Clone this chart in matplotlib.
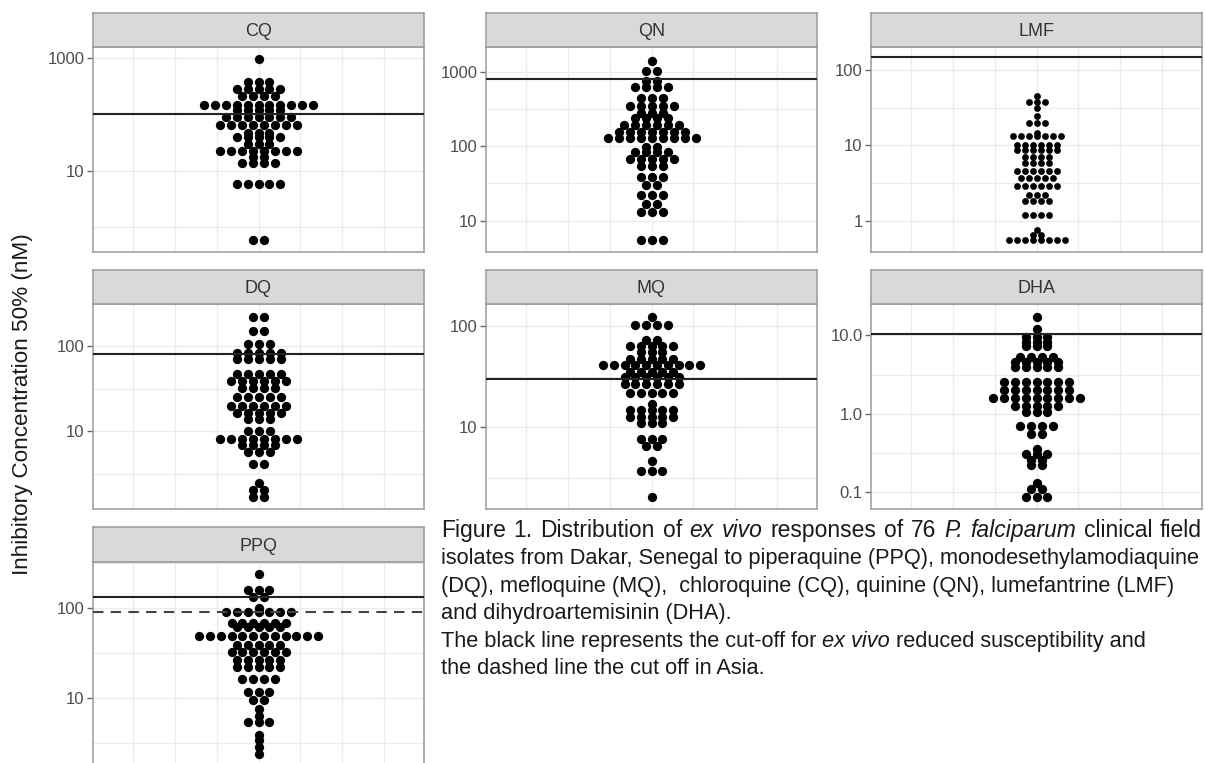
import numpy as np
import matplotlib
matplotlib.use("Agg")
import matplotlib.pyplot as plt
from matplotlib.transforms import IdentityTransform

W, H, DPI = 1205, 763, 100

# ---------------- data (row value, number of dots in the row) ----------------
panel_names = ["CQ", "QN", "LMF", "DQ", "MQ", "DHA", "PPQ"]

cq_vals = [950, 384, 281, 213, 147, 120, 89, 65, 47, 39, 30, 22.7, 17.7, 13.5, 5.8, 0.58]
cq_counts = [1, 3, 5, 4, 11, 5, 7, 8, 3, 5, 3, 8, 2, 4, 5, 2]

qn_vals = [1405, 1030, 750, 618, 440, 347, 282, 237, 193, 157, 130, 98, 83, 68, 55, 39, 30, 22, 16.7, 13.1, 5.5]
qn_counts = [1, 2, 2, 4, 3, 5, 3, 4, 6, 7, 9, 2, 4, 5, 3, 3, 2, 3, 2, 3, 3]

lmf_vals = [44.8, 37.2, 31.4, 24.3, 19.8, 14.6, 13.2, 10.2, 8.6, 7.1, 5.8, 4.5, 3.7, 2.9, 2.2, 1.85, 1.2, 0.76, 0.65, 0.55]
lmf_counts = [1, 3, 1, 1, 3, 1, 7, 6, 6, 4, 4, 6, 5, 6, 3, 4, 4, 1, 2, 8]

dq_vals = [218, 151, 106, 83, 70, 47, 39, 32, 24.9, 19.8, 16.4, 13.7, 10.1, 8.05, 6.85, 5.6, 4.1, 2.44, 2.02, 1.67]
dq_counts = [2, 2, 3, 5, 5, 5, 6, 4, 5, 6, 5, 3, 3, 8, 4, 3, 2, 1, 2, 2]

mq_vals = [122, 102, 73, 63.5, 55.7, 46.9, 41.2, 35.4, 31.2, 26.8, 21.7, 17, 14.8, 12.7, 11.1, 7.67, 6.5, 4.68, 3.7, 2.07]
mq_counts = [1, 4, 2, 5, 3, 5, 10, 5, 6, 6, 5, 1, 5, 5, 3, 3, 2, 1, 3, 1]

dha_vals = [16.9, 11.9, 9.6, 8.3, 7.3, 5.3, 4.6, 3.9, 2.56, 2.0, 1.6, 1.26, 1.06, 0.69, 0.56, 0.36, 0.31, 0.26, 0.22, 0.13, 0.11, 0.088]
dha_counts = [1, 1, 3, 3, 3, 4, 5, 5, 7, 7, 9, 5, 3, 4, 2, 1, 3, 2, 2, 1, 2, 3]

ppq_vals = [240, 160, 132, 100, 91.7, 69, 61.5, 49.2, 39, 33, 26.7, 22.5, 16.4, 11.8, 9.6, 7.7, 6.4, 5.5, 3.9, 3.4, 2.9, 2.4]
ppq_counts = [1, 3, 2, 1, 7, 6, 5, 12, 5, 6, 5, 5, 4, 3, 2, 1, 1, 3, 1, 1, 1, 1]

cutoffs = [100, 800, 150, 80, 30, 10.3, 135]
asia_cutoff_ppq = 90

major_ticks = [[10, 1000], [10, 100, 1000], [1, 10, 100], [10, 100], [10, 100],
               [0.1, 1.0, 10.0], [10, 100]]
tick_labels = [["10", "1000"], ["10", "100", "1000"], ["1", "10", "100"], ["10", "100"],
               ["10", "100"], ["0.1", "1.0", "10.0"], ["10", "100"]]
minor_ticks = [[1, 100], [31.6, 316], [3.16, 31.6], [3.16, 31.6], [3.16, 31.6],
               [0.316, 3.16], [3.16, 31.6, 316]]
log_limits = [(-0.447, 3.2), (0.58, 3.33), (-0.416, 2.305), (0.082, 2.494),
              (0.193, 2.217), (-1.213, 1.399), (0.237, 2.514)]

all_vals = [cq_vals, qn_vals, lmf_vals, dq_vals, mq_vals, dha_vals, ppq_vals]
all_counts = [cq_counts, qn_counts, lmf_counts, dq_counts, mq_counts, dha_counts, ppq_counts]

# ---------------- layout (pixels) ----------------
col_x = [93, 486, 871]
pw = 331
row_y = [(13, 47, 252), (270, 304, 509), (527, 562, 767)]
positions = [(0, 0), (0, 1), (0, 2), (1, 0), (1, 1), (1, 2), (2, 0)]
dot_spacing = [10.9, 11.0, 8.0, 11.0, 10.8, 10.9, 10.8]
dot_diam = [9.3, 9.3, 6.8, 9.3, 9.3, 9.3, 9.3]
grid_step = 41.7

plt.rcParams['font.family'] = ['Liberation Sans', 'DejaVu Sans']
fig = plt.figure(figsize=(W / DPI, H / DPI), dpi=DPI)
fig.patch.set_facecolor('white')

border_col = '#9A9A9A'
grid_col = '#EBEBEB'

for i, name in enumerate(panel_names):
    r, c = positions[i]
    st, pt, pb = row_y[r]
    x0 = col_x[c]
    ax = fig.add_axes([x0 / W, 1 - pb / H, pw / W, (pb - pt) / H])
    sax = fig.add_axes([x0 / W, 1 - pt / H, pw / W, (pt - st) / H])

    # strip
    sax.set_facecolor('#D9D9D9')
    sax.set_xticks([]); sax.set_yticks([])
    for sp in sax.spines.values():
        sp.set_color(border_col); sp.set_linewidth(1.1)
    sax.text(0.5, 0.45, name, ha='center', va='center', fontsize=13,
             color='#333333', transform=sax.transAxes)

    # panel
    ax.set_yscale('log')
    lo, hi = log_limits[i]
    ax.set_ylim(10 ** lo, 10 ** hi)
    ax.set_xlim(-pw / 2, pw / 2)
    ax.set_xticks([k * grid_step for k in range(-3, 4)])
    ax.set_xticklabels([])
    ax.tick_params(axis='x', length=0)
    ax.set_yticks(major_ticks[i])
    ax.set_yticklabels(tick_labels[i])
    ax.set_yticks(minor_ticks[i], minor=True)
    ax.yaxis.set_minor_formatter(matplotlib.ticker.NullFormatter())
    ax.tick_params(axis='y', which='major', length=4, width=1, color='#666666',
                   labelsize=12, labelcolor='#4D4D4D', pad=2)
    ax.tick_params(axis='y', which='minor', length=0)
    ax.grid(True, which='both', color=grid_col, linewidth=0.9, zorder=0)
    ax.set_axisbelow(True)
    for sp in ax.spines.values():
        sp.set_color(border_col); sp.set_linewidth(1.1)

    # dots (centered stacks, like ggplot dotplot stackdir='center')
    xs, ys = [], []
    for v, n in zip(all_vals[i], all_counts[i]):
        off = (np.arange(n) - (n - 1) / 2) * dot_spacing[i]
        xs.extend(off); ys.extend([v] * n)
    s = (dot_diam[i] * 72 / DPI) ** 2
    ax.scatter(xs, ys, s=s, c='black', linewidths=0, zorder=3)

    ax.axhline(cutoffs[i], color='#222222', linewidth=1.5, zorder=4)
    if name == "PPQ":
        ax.axhline(asia_cutoff_ppq, color='#444444', linewidth=1.5,
                   linestyle=(0, (5, 3.5)), zorder=4)

# y label
fig.text(23 / W, 1 - 404 / H, "Inhibitory Concentration 50% (nM)", rotation=90,
         ha='center', va='center', fontsize=16.2, color='#1A1A1A')

# caption with mixed italics (word, style); line 0 is justified to the right edge
caption = [
    [("Figure", 'normal'), ("1.", 'normal'), ("Distribution", 'normal'), ("of", 'normal'),
     ("ex", 'italic'), ("vivo", 'italic'), ("responses", 'normal'), ("of", 'normal'),
     ("76", 'normal'), ("P.", 'italic'), ("falciparum", 'italic'), ("clinical", 'normal'),
     ("field", 'normal')],
    [("isolates from Dakar, Senegal to piperaquine (PPQ), monodesethylamodiaquine", 'normal')],
    [("(DQ), mefloquine (MQ),  chloroquine (CQ), quinine (QN), lumefantrine (LMF)", 'normal')],
    [("and dihydroartemisinin (DHA).", 'normal')],
    [("The black line represents the cut-off for", 'normal'), ("ex vivo", 'italic'),
     ("reduced susceptibility and", 'normal')],
    [("the dashed line the cut off in Asia.", 'normal')],
]
cap_fs = [16.5, 15.7, 15.7, 15.7, 15.7, 15.7]
cap_x = 441
cap_right_line0 = 1202
cap_base = [536.7, 564.2, 591.7, 619.2, 646.7, 674.2]
renderer = fig.canvas.get_renderer()


def text_w(s, style, fs):
    t = fig.text(0, 0, s, fontsize=fs, style=style, transform=IdentityTransform())
    w = t.get_window_extent(renderer).width
    t.remove()
    return w


for li, (line, yb) in enumerate(zip(caption, cap_base)):
    fs = cap_fs[li]
    widths = [text_w(seg, st, fs) for seg, st in line]
    space_w = text_w("x x", 'normal', fs) - text_w("xx", 'normal', fs)
    if li == 0:
        gap = (cap_right_line0 - cap_x - sum(widths)) / (len(line) - 1)
    else:
        gap = space_w
    x = cap_x
    for (seg, style), w in zip(line, widths):
        fig.text(x, H - yb, seg, fontsize=fs, style=style, color='#1A1A1A',
                 ha='left', va='baseline', transform=IdentityTransform())
        x += w + gap

fig.savefig("out.png", dpi=DPI, facecolor='white')
